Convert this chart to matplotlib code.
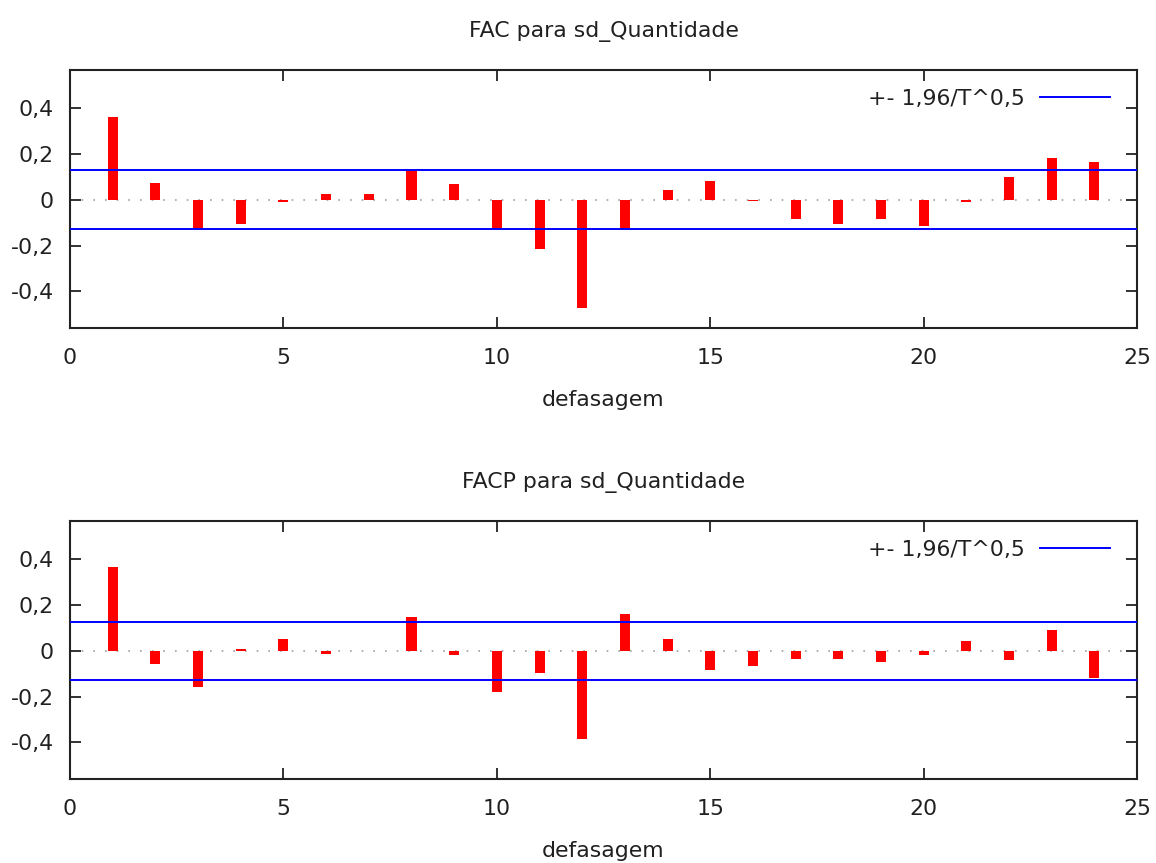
import numpy as np
import matplotlib
matplotlib.use("Agg")
import matplotlib.pyplot as plt
from matplotlib.ticker import FuncFormatter

plt.rcParams['font.family'] = ['DejaVu Sans']
plt.rcParams['font.size'] = 15.8

lags = np.arange(1, 25)

# FAC (autocorrelation)
fac = [0.362, 0.074, -0.130, -0.108, -0.010, 0.026, 0.026, 0.124,
       0.067, -0.127, -0.216, -0.472, -0.131, 0.042, 0.083, -0.006,
       -0.083, -0.108, -0.083, -0.115, -0.009, 0.100, 0.181, 0.165]

# FACP (partial autocorrelation)
facp = [0.368, -0.057, -0.157, 0.007, 0.051, -0.012, -0.003, 0.148,
        -0.017, -0.180, -0.097, -0.384, 0.162, 0.051, -0.083, -0.065,
        -0.035, -0.035, -0.051, -0.017, 0.041, -0.042, 0.090, -0.119]

band = 0.128  # 1,96/T^0,5

titles = ["FAC para sd_Quantidade", "FACP para sd_Quantidade"]
series = [fac, facp]

fig = plt.figure(figsize=(11.56, 8.63), dpi=100)
axes_pos = [[0.0606, 0.620, 0.923, 0.299],
            [0.0606, 0.0973, 0.923, 0.299]]

txt = '#202020'


def comma_fmt(v, pos):
    if abs(v) < 1e-9:
        return "0"
    return ("%.1f" % v).replace(".", ",")


for pos, vals, ttl in zip(axes_pos, series, titles):
    ax = fig.add_axes(pos)
    ax.axhline(0, color='#a0a0a0', lw=1.2, ls=(0, (1, 6)), zorder=1)
    ax.bar(lags, vals, width=0.235, color='#ff0000', zorder=2)
    ax.axhline(band, color='#0000ff', lw=1.4, zorder=3,
               label="+- 1,96/T^0,5")
    ax.axhline(-band, color='#0000ff', lw=1.4, zorder=3)
    ax.set_xlim(0, 25)
    ax.set_ylim(-0.56, 0.567)
    ax.set_xticks([0, 5, 10, 15, 20, 25])
    ax.set_yticks([-0.4, -0.2, 0, 0.2, 0.4])
    ax.yaxis.set_major_formatter(FuncFormatter(comma_fmt))
    ax.tick_params(direction='in', top=True, right=True, length=8,
                   width=1.3, colors='#222222', labelcolor=txt)
    ax.tick_params(axis='x', pad=14.5)
    ax.tick_params(axis='y', pad=11.5)
    for s in ax.spines.values():
        s.set_linewidth(1.5)
        s.set_color('#222222')
    ax.set_title(ttl, pad=23.5, color=txt, fontsize=15.8)
    ax.set_xlabel("defasagem", labelpad=16, color=txt)
    ax.legend(loc='upper right', bbox_to_anchor=(0.9925, 1.0),
              frameon=False, markerfirst=False, handlelength=3.2,
              handletextpad=0.7, borderaxespad=0.55, borderpad=0.3,
              labelcolor=txt)

plt.savefig("out.png", dpi=100)
